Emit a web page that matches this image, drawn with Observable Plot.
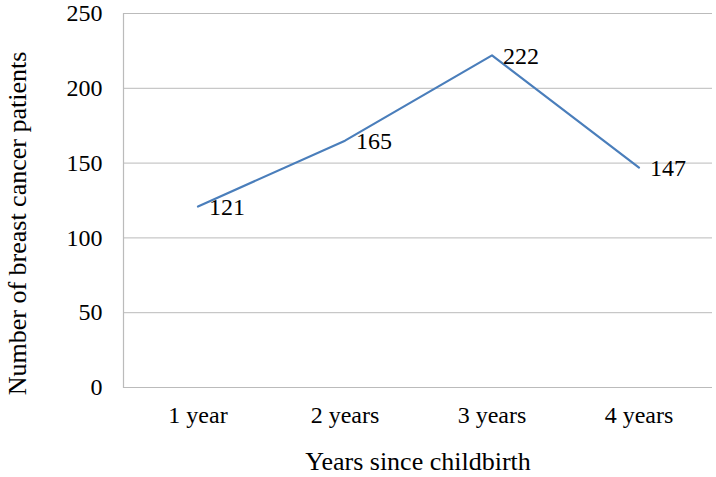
<!DOCTYPE html>
<html><head><meta charset="utf-8">
<script src="https://cdn.jsdelivr.net/npm/d3@7"></script>
<script src="https://cdn.jsdelivr.net/npm/@observablehq/plot@0.6"></script>
<style>body{margin:0;background:#fff;} svg{font-family:"Liberation Serif","Times New Roman",serif;}</style>
</head><body><div id="chart"></div>
<script>
const categories = ["1 year", "2 years", "3 years", "4 years"];
const patients = [121, 165, 222, 147];
const yTicks = [0, 50, 100, 150, 200, 250];
const xTitle = "Years since childbirth";
const yTitle = "Number of breast cancer patients";
const data = categories.map((c, i) => ({cat: c, v: patients[i]}));

const chart = Plot.plot({
  width: 716, height: 477,
  marginTop: 13, marginBottom: 90, marginLeft: 123, marginRight: 4,
  style: {fontFamily: '"Liberation Serif","Times New Roman",serif', fontSize: "24px", color: "#000", background: "#fff"},
  x: {domain: categories, type: "band", padding: 0, label: null},
  y: {domain: [0, 250], label: null},
  marks: [
    Plot.gridY(yTicks.filter(t => t > 0), {stroke: "#bbb", strokeOpacity: 1, strokeWidth: 1}),
    Plot.ruleY([0], {stroke: "#bbb", strokeWidth: 1.2}),
    Plot.frame({anchor: "left", stroke: "#bbb", strokeWidth: 1.2}),
    Plot.axisY({ticks: yTicks, tickSize: 0, tickPadding: 21, fontSize: 24, label: null}),
    Plot.axisX({tickSize: 0, tickPadding: 18, fontSize: 24, label: null}),
    Plot.lineY(data, {x: "cat", y: "v", stroke: "#4a7ebb", strokeWidth: 2.2}),
    Plot.text(data, {x: "cat", y: "v", text: d => String(d.v), textAnchor: "start", dx: 11, dy: 1, fontSize: 24, fill: "#000"}),
    Plot.text([xTitle], {frameAnchor: "bottom", dy: 82, fontSize: 26, fill: "#000"}),
    Plot.text([yTitle], {frameAnchor: "left", textAnchor: "middle", dx: -106, dy: 23, rotate: -90, fontSize: 26, fill: "#000"})
  ]
});
document.getElementById("chart").appendChild(chart);
</script></body></html>
